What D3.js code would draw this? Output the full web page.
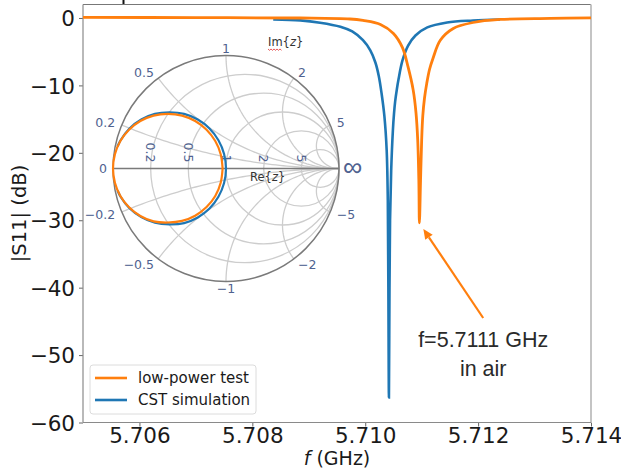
<!DOCTYPE html>
<html>
<head>
<meta charset="utf-8">
<script src="https://cdn.jsdelivr.net/npm/d3@7/dist/d3.min.js"></script>
<style>
  body { margin: 0; background: #fff; }
  svg { display: block; font-family: "DejaVu Sans", sans-serif; }
</style>
</head>
<body>
<div id="chart"></div>
<script>
// measured S11 curves (frequency in GHz, |S11| in dB)
const testFreq = [5.70500, 5.70700, 5.70885, 5.70973, 5.70996, 5.71027, 5.71050, 5.71066, 5.71076,
    5.71085, 5.71090, 5.71093, 5.71095, 5.71096, 5.71098, 5.71100, 5.71102, 5.71105, 5.71109,
    5.71114, 5.71120, 5.71133, 5.71156, 5.71191, 5.71239, 5.71328, 5.71400];
const testDb = [0.1, 0.05, 0.0, -0.15, -0.37, -0.96, -2.3, -4.4, -7.3,
    -10.7, -14.1, -18.1, -24.1, -30.4, -24.1, -18.1, -14.5, -11.9, -9.7,
    -7.6, -6.0, -3.3, -1.55, -0.67, -0.22, -0.07, 0.03];

const cstFreq = [5.70837, 5.70885, 5.70920, 5.70956, 5.70977, 5.70996, 5.71009, 5.71018, 5.71024,
    5.71029, 5.71034, 5.71038, 5.71040, 5.71041, 5.71042, 5.71043, 5.71044, 5.71046, 5.71049, 5.71051,
    5.71053, 5.71056, 5.71059, 5.71066, 5.71076, 5.71089, 5.71110, 5.71145, 5.71191, 5.71239];
const cstDb = [-0.2, -0.35, -0.7, -1.3, -2.0, -3.3, -4.8, -6.6, -8.6,
    -11.2, -14.6, -19.6, -27.0, -40.0, -56.3, -40.0, -30.0, -22.6, -16.7, -14.2,
    -12.4, -10.6, -9.1, -6.3, -4.1, -2.6, -1.4, -0.67, -0.37, -0.22];

// reflection coefficient loci on the Smith chart (Re, Im of gamma)
const testGammaRe = [-0.03, -0.047, -0.095, -0.172, -0.273, -0.389, -0.515, -0.641, -0.758, -0.858, -0.935, -0.983, -1.0,
    -0.983, -0.935, -0.858, -0.758, -0.641, -0.515, -0.389, -0.273, -0.172, -0.095, -0.047, -0.03];
const testGammaIm = [0, 0.126, 0.243, 0.343, 0.42, 0.468, 0.483, 0.468, 0.42, 0.343, 0.243, 0.126, 0,
    -0.126, -0.243, -0.343, -0.42, -0.468, -0.478, -0.464, -0.418, -0.341, -0.243, -0.126, 0];
const cstGammaRe = [-0.96, -0.933, -0.854, -0.75, -0.629, -0.5, -0.371, -0.25, -0.146, -0.067, -0.017, 0.0,
    -0.017, -0.067, -0.146, -0.25, -0.371, -0.5, -0.629, -0.75, -0.854, -0.933, -0.96];
const cstGammaIm = [0.195, 0.25, 0.354, 0.433, 0.483, 0.496, 0.483, 0.433, 0.354, 0.25, 0.129, 0,
    -0.129, -0.25, -0.354, -0.433, -0.483, -0.494, -0.48, -0.43, -0.352, -0.25, -0.195];

const xTicks = [5.706, 5.708, 5.710, 5.712, 5.714];
const yTicks = [0, -10, -20, -30, -40, -50, -60];
const smithR = [0.2, 0.5, 1, 2, 5];
const smithX = [0.2, 0.5, 1, 2, 5];
const smithXLabels = ["0.2", "0.5", "1", "2", "5"];
const seriesNames = ["low-power test", "CST simulation"];
const annotLines = ["f=5.7111 GHz", "in air"];
const annotTip = [5.71103, -31.3];
const annotText = [5.71209, -44.5];

const W = 621, H = 472;
const orange = "#ff7f0e", blue = "#1f77b4";
const labelBlue = "#4f6290";

const svg = d3.select("#chart").append("svg")
    .attr("width", W)
    .attr("height", H);

svg.append("rect").attr("width", W).attr("height", H).attr("fill", "#fff");

const x = d3.scaleLinear().domain([5.705, 5.714]).range([83, 591]);
const y = d3.scaleLinear().domain([-60, 2]).range([422.5, 4.5]);

// stray mark above the frame (cropped from the source figure)
svg.append("line")
    .attr("x1", 123.5).attr("x2", 123.5).attr("y1", 0).attr("y2", 4)
    .attr("stroke", "#111").attr("stroke-width", 2);

// axes
const xAxis = svg.append("g")
    .attr("transform", `translate(0,${y.range()[0]})`)
    .call(d3.axisBottom(x).tickValues(xTicks).tickFormat(d3.format(".3f")).tickSize(4).tickPadding(1));
const yAxis = svg.append("g")
    .attr("transform", `translate(${x.range()[0]},0)`)
    .call(d3.axisLeft(y).tickValues(yTicks).tickFormat(d3.format("d")).tickSize(4).tickPadding(4));

[xAxis, yAxis].forEach(g => {
    g.select(".domain").remove();
    g.selectAll(".tick line").attr("stroke", "#666");
    g.selectAll(".tick text")
        .attr("fill", "#1a1a1a")
        .style("font-size", "21.5px")
        .style("font-family", "DejaVu Sans");
});
yAxis.selectAll(".tick text").attr("dy", "0.36em");
xAxis.selectAll(".tick text").attr("dy", "0.7em");

// frame
const [x0, x1] = x.range();
const [yb, yt] = y.range();
svg.append("line").attr("x1", x0).attr("x2", x1).attr("y1", yt).attr("y2", yt)
    .attr("stroke", "#777").attr("stroke-width", 1.2);
svg.append("line").attr("x1", x1).attr("x2", x1).attr("y1", yt).attr("y2", yb)
    .attr("stroke", "#c4c4c4").attr("stroke-width", 2);
svg.append("line").attr("x1", x0).attr("x2", x1).attr("y1", yb).attr("y2", yb)
    .attr("stroke", "#8a8a8a").attr("stroke-width", 1.2);
svg.append("line").attr("x1", x0).attr("x2", x0).attr("y1", yt).attr("y2", yb)
    .attr("stroke", "#8a8a8a").attr("stroke-width", 1.2);

// axis titles
svg.append("text")
    .attr("transform", `translate(26,${(yt + yb) / 2}) rotate(-90)`)
    .attr("text-anchor", "middle")
    .attr("fill", "#1a1a1a")
    .style("font-size", "19.5px")
    .text("|S11| (dB)");

const xl = svg.append("text")
    .attr("x", (x0 + x1) / 2)
    .attr("y", 465)
    .attr("text-anchor", "middle")
    .attr("fill", "#1a1a1a")
    .style("font-size", "19px");
xl.append("tspan").style("font-style", "italic").text("f");
xl.append("tspan").text(" (GHz)");

// ---- Smith chart inset ----
const sx = d3.scaleLinear().domain([-1, 1]).range([113, 339]);
const sy = d3.scaleLinear().domain([-1, 1]).range([281.5, 55.5]);
const R = (sx(1) - sx(-1)) / 2;
const smith = svg.append("g").attr("class", "smith");

const gridColor = "#cdcdcd";
const arcLine = d3.line().x(d => sx(d[0])).y(d => sy(d[1]));

// constant resistance circles
smith.selectAll(".rcirc")
    .data(smithR)
    .enter().append("circle")
    .attr("class", "rcirc")
    .attr("cx", r => sx(r / (1 + r)))
    .attr("cy", sy(0))
    .attr("r", r => R / (1 + r))
    .attr("fill", "none")
    .attr("stroke", gridColor)
    .attr("stroke-width", 1.3);

// constant reactance arcs
function reactanceArc(xv) {
    const cx = 1, cy = 1 / xv, rad = Math.abs(1 / xv);
    const ex = (xv * xv - 1) / (xv * xv + 1), ey = 2 * xv / (xv * xv + 1);
    const a0 = Math.atan2(0 - cy, 1 - cx);
    let a1 = Math.atan2(ey - cy, ex - cx);
    let da = a1 - a0;
    while (da > Math.PI) da -= 2 * Math.PI;
    while (da < -Math.PI) da += 2 * Math.PI;
    return d3.range(0, 61).map(i => {
        const a = a0 + da * i / 60;
        return [cx + rad * Math.cos(a), cy + rad * Math.sin(a)];
    });
}
smithX.forEach(xv => {
    [xv, -xv].forEach(v => {
        smith.append("path")
            .attr("d", arcLine(reactanceArc(v)))
            .attr("fill", "none")
            .attr("stroke", gridColor)
            .attr("stroke-width", 1.3);
    });
});

smith.append("circle")
    .attr("cx", sx(0)).attr("cy", sy(0)).attr("r", R)
    .attr("fill", "none").attr("stroke", "#7a7a7a").attr("stroke-width", 1.5);
smith.append("line")
    .attr("x1", sx(-1)).attr("x2", sx(1)).attr("y1", sy(0)).attr("y2", sy(0))
    .attr("stroke", "#7a7a7a").attr("stroke-width", 1.5);

// outer (reactance) labels
function outerLabel(gx, gy, txt, off) {
    const px = sx(gx), py = sy(gy);
    const dx = px - sx(0), dy = py - sy(0), len = Math.hypot(dx, dy);
    const cosA = dx / len;
    smith.append("text")
        .attr("x", px + dx / len * off)
        .attr("y", py + dy / len * off)
        .attr("text-anchor", cosA < -0.3 ? "end" : cosA > 0.3 ? "start" : "middle")
        .attr("dominant-baseline", "central")
        .attr("fill", labelBlue)
        .style("font-size", "12.5px")
        .text(txt);
}
smithX.forEach((xv, i) => {
    const ex = (xv * xv - 1) / (xv * xv + 1), ey = 2 * xv / (xv * xv + 1);
    outerLabel(ex, ey, smithXLabels[i], 7);
    outerLabel(ex, -ey, "\u2212" + smithXLabels[i], 7);
});
outerLabel(-1, 0, "0", 6);
smith.append("text")
    .attr("x", sx(1) + 4).attr("y", sy(0) + 7)
    .attr("fill", labelBlue)
    .style("font-family", "Liberation Sans, Arial, sans-serif")
    .style("font-size", "27px")
    .text("\u221e");

// resistance labels along the real axis
smithR.forEach((r, i) => {
    smith.append("text")
        .attr("transform", `translate(${sx((r - 1) / (r + 1))},${sy(0) - 6}) rotate(90)`)
        .attr("text-anchor", "end")
        .attr("dominant-baseline", "central")
        .attr("fill", labelBlue)
        .style("font-size", "12.5px")
        .text(smithXLabels[i]);
});

const re = smith.append("text")
    .attr("x", 250).attr("y", sy(0) + 12)
    .attr("fill", "#333")
    .style("font-size", "11.5px");
re.append("tspan").text("Re{");
re.append("tspan").style("font-style", "italic").text("z");
re.append("tspan").text("}");

const im = smith.append("text")
    .attr("x", 268).attr("y", 46)
    .attr("fill", "#333")
    .style("font-size", "11.5px");
const imPart = im.append("tspan").text("Im");
im.append("tspan").text("{");
im.append("tspan").style("font-style", "italic").text("z");
im.append("tspan").text("}");
// spell-check squiggle under "Im"
const imLen = imPart.node().getComputedTextLength();
const squiggle = d3.range(0, Math.floor(imLen / 1.5) + 1).map(i => [268 + i * 1.5, 49 + (i % 2) * 1.3]);
smith.append("path")
    .attr("d", d3.line()(squiggle))
    .attr("fill", "none")
    .attr("stroke", "#e03030")
    .attr("stroke-width", 0.8);

// loci
const gammaLine = d3.line().x(d => sx(d[0])).y(d => sy(d[1])).curve(d3.curveCatmullRom);
smith.append("path")
    .attr("d", gammaLine(d3.zip(cstGammaRe, cstGammaIm)))
    .attr("fill", "none").attr("stroke", blue).attr("stroke-width", 2.2);
smith.append("path")
    .attr("d", gammaLine(d3.zip(testGammaRe, testGammaIm)))
    .attr("fill", "none").attr("stroke", orange).attr("stroke-width", 2.2);

// ---- S11 curves ----
const line = d3.line().x(d => x(d[0])).y(d => y(d[1])).curve(d3.curveCatmullRom.alpha(0.5));
svg.append("path")
    .attr("d", line(d3.zip(cstFreq, cstDb)))
    .attr("fill", "none").attr("stroke", blue).attr("stroke-width", 2.6);
svg.append("path")
    .attr("d", line(d3.zip(testFreq, testDb)))
    .attr("fill", "none").attr("stroke", orange).attr("stroke-width", 2.8);

// annotation arrow
const tip = [x(annotTip[0]), y(annotTip[1])];
const tail = [x(annotText[0]), y(annotText[1])];
const ang = Math.atan2(tip[1] - tail[1], tip[0] - tail[0]);
const headL = 10, headW = 4.5;
const base = [tip[0] - headL * Math.cos(ang), tip[1] - headL * Math.sin(ang)];
svg.append("line")
    .attr("x1", tail[0]).attr("y1", tail[1])
    .attr("x2", base[0]).attr("y2", base[1])
    .attr("stroke", orange).attr("stroke-width", 2.2);
svg.append("path")
    .attr("d", d3.line()([
        tip,
        [base[0] + headW * Math.sin(ang), base[1] - headW * Math.cos(ang)],
        [base[0] - headW * Math.sin(ang), base[1] + headW * Math.cos(ang)]
    ]) + "Z")
    .attr("fill", orange);

annotLines.forEach((t, i) => {
    svg.append("text")
        .attr("x", tail[0])
        .attr("y", tail[1] + 29 + i * 29)
        .attr("text-anchor", "middle")
        .attr("fill", "#2a2a2a")
        .style("font-family", "Liberation Sans, Arial, sans-serif")
        .style("font-size", "21.5px")
        .text(t);
});

// legend
const legend = svg.append("g").attr("transform", "translate(90,365)");
legend.append("rect")
    .attr("width", 166).attr("height", 49).attr("rx", 3)
    .attr("fill", "#fff").attr("fill-opacity", 0.85)
    .attr("stroke", "#dcdcdc");
[orange, blue].forEach((c, i) => {
    legend.append("line")
        .attr("x1", 5).attr("x2", 37)
        .attr("y1", 13 + i * 22).attr("y2", 13 + i * 22)
        .attr("stroke", c).attr("stroke-width", 2.6);
    legend.append("text")
        .attr("x", 48).attr("y", 13 + i * 22)
        .attr("dy", "0.35em")
        .attr("fill", "#1a1a1a")
        .style("font-size", "15px")
        .text(seriesNames[i]);
});
</script>
</body>
</html>
